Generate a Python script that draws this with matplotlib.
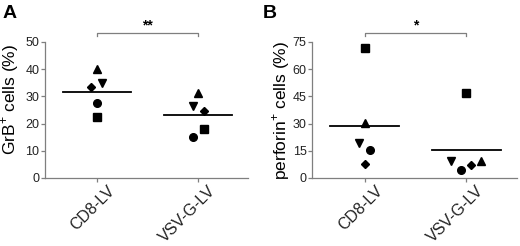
import numpy as np
import matplotlib
matplotlib.use("Agg")
import matplotlib.pyplot as plt
from matplotlib.transforms import ScaledTranslation

plt.rcParams['font.family'] = ['Liberation Sans', 'DejaVu Sans']
plt.rcParams['mathtext.fontset'] = 'custom'
plt.rcParams['mathtext.rm'] = 'Liberation Sans'

groups = ["CD8-LV", "VSV-G-LV"]
markers = ["^", "v", "D", "o", "s"]

# GrB+ cells (%), order follows markers
grb_cd8 = [40.0, 35.0, 33.6, 27.7, 22.3]
grb_vsv = [31.4, 26.5, 24.7, 15.2, 17.9]
grb_dx_cd8 = [0.0, 0.05, -0.06, 0.0, 0.0]
grb_dx_vsv = [0.0, -0.05, 0.06, -0.05, 0.06]

# perforin+ cells (%)
prf_cd8 = [30.5, 19.1, 7.7, 15.4, 71.5]
prf_vsv = [9.2, 9.6, 7.2, 4.4, 47.1]
prf_dx_cd8 = [0.0, -0.06, 0.0, 0.05, 0.0]
prf_dx_vsv = [0.15, -0.15, 0.05, -0.05, 0.0]

sizes = {"^": 5.5, "v": 5.5, "D": 4.5, "o": 5.5, "s": 5.2}
grey = "#7f7f7f"


def panel(ax, vals, offs, ymax, yticks, ylabel, star, lab_xy):
    for g, (v, dx) in enumerate(zip(vals, offs)):
        for y, d, m in zip(v, dx, markers):
            ax.plot(g + d, y, marker=m, color="black", ms=sizes[m], ls="none")
        mu = np.mean(v)
        ax.plot([g - 0.34, g + 0.34], [mu, mu], color="black", lw=1.3)
    ax.set_xlim(-0.52, 1.5)
    ax.set_ylim(0, ymax)
    ax.set_yticks(yticks)
    ax.set_xticks([0, 1])
    for s in ["top", "right"]:
        ax.spines[s].set_visible(False)
    for s in ["left", "bottom"]:
        ax.spines[s].set_color(grey)
        ax.spines[s].set_linewidth(0.9)
    ax.tick_params(colors=grey, labelcolor="#222222", length=3, width=0.9, pad=1)
    ax.tick_params(axis="y", labelsize=9)
    ax.set_xticklabels(groups, rotation=45, ha="right", rotation_mode="anchor", fontsize=11.5)
    shift = ScaledTranslation(0.10, 0.0, ax.figure.dpi_scale_trans)
    for t in ax.get_xticklabels():
        t.set_transform(t.get_transform() + shift)
    ax.set_ylabel(ylabel, fontsize=12.5)
    ax.yaxis.set_label_coords(*lab_xy)
    # significance bracket
    yb = ymax * 1.065
    ax.plot([0, 0, 1, 1], [yb - ymax * 0.02, yb, yb, yb - ymax * 0.02],
            color=grey, lw=0.9, clip_on=False)
    ax.text(0.5, yb + ymax * 0.005, star, ha="center", va="bottom", fontsize=10, fontweight="bold")


fig = plt.figure(figsize=(5.2, 2.46), dpi=100)
ax1 = fig.add_axes([45 / 520, 1 - 178 / 246, 203 / 520, 136 / 246])
ax2 = fig.add_axes([312 / 520, 1 - 178 / 246, 205 / 520, 136 / 246])

panel(ax1, [grb_cd8, grb_vsv], [grb_dx_cd8, grb_dx_vsv], 50, [0, 10, 20, 30, 40, 50],
      "GrB$^{+}$ cells (%)", "**", (-0.12, 0.58))
panel(ax2, [prf_cd8, prf_vsv], [prf_dx_cd8, prf_dx_vsv], 75, [0, 15, 30, 45, 60, 75],
      "perforin$^{+}$ cells (%)", "*", (-0.10, 0.5))

fig.text(3 / 520, 1 - 13 / 246, "A", fontsize=14, fontweight="bold", va="center", ha="left")
fig.text(263 / 520, 1 - 13 / 246, "B", fontsize=14, fontweight="bold", va="center", ha="left")

fig.savefig("out.png", dpi=100)
